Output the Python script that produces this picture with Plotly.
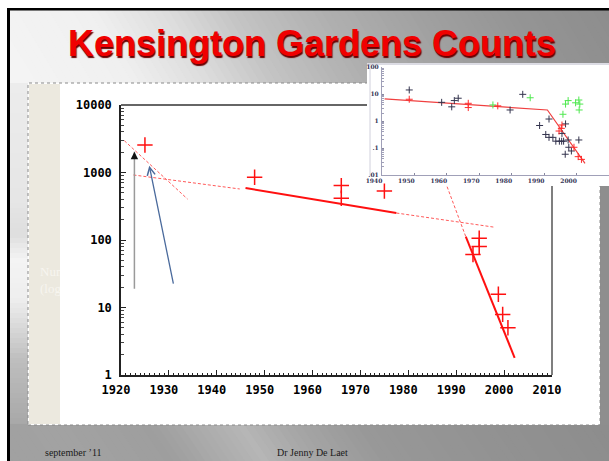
import math
import plotly.graph_objects as go

W, H = 609, 461
def px(x): return x / W
def py(y): return 1 - y / H

# ---------------- data: main chart ----------------
main_years = [1925.0, 1947.9, 1966.0, 1966.0, 1975.0, 1993.5, 1994.8, 1994.8, 1998.8, 1999.7, 2000.8]
main_counts = [2550, 850, 640, 415, 530, 61, 80, 106, 15.7, 7.9, 5.0]

trend_solid_early_years = [1946.0, 1977.5]
trend_solid_early_counts = [589, 251]
trend_dash_late_years = [1977.5, 1997.9]
trend_dash_late_counts = [251, 155]
trend_dash_early_years = [1922.6, 1944.8]
trend_dash_early_counts = [919, 570]
trend_dash_steep_years = [1920.7, 1933.9]
trend_dash_steep_counts = [2958, 404]
trend_solid_decline_years = [1992.0, 2002.2]
trend_solid_decline_counts = [112, 1.8]
trend_dash_decline_years = [1988.1, 1992.0]
trend_dash_decline_counts = [616, 112]

arrow_gray_years = [1922.8, 1922.8]
arrow_gray_counts = [18, 2030]
arrow_blue_years = [1931.0, 1925.9]
arrow_blue_counts = [21.5, 1262]

main_x_ticks = [1920, 1930, 1940, 1950, 1960, 1970, 1980, 1990, 2000, 2010]
main_y_ticks = [1, 10, 100, 1000, 10000]
main_y_labels = ["1", "10", "100", "1000", "10000"]

# ---------------- data: inset chart ----------------
inset_black_years = [1948.4, 1958.4, 1961.5, 1962.3, 1963.5, 1979.5, 1983.4, 1988.6, 1991.5,
                     1990.5, 1991.5, 1992.7, 1993.6, 1994.7, 1995.4, 1996.0, 1995.5, 1996.6,
                     1997.4, 1997.6, 1996.5, 1998.4, 2000.7]
inset_black_vals = [14.4, 5.0, 3.4, 5.8, 7.1, 2.6, 9.9, 0.69, 1.2,
                    0.32, 0.25, 0.25, 0.18, 0.18, 0.18, 0.18, 0.35, 0.79,
                    0.2, 0.107, 0.059, 0.078, 0.2]
inset_red_years = [1948.4, 1966.6, 1966.6, 1975.7, 1995.5, 1995.3, 1994.6, 1999.2, 2000.5, 2001.5]
inset_red_vals = [6.5, 4.6, 3.2, 3.7, 0.72, 0.54, 0.43, 0.107, 0.048, 0.038]
inset_green_years = [1974.2, 1985.7, 1995.8, 1996.6, 1997.4, 1999.7, 2000.7, 2001.0, 2000.8]
inset_green_vals = [4.0, 7.4, 1.8, 4.3, 5.8, 4.8, 6.1, 4.3, 2.6]
inset_line_years = [1940.8, 1991.0, 2002.6]
inset_line_vals = [6.7, 2.6, 0.027]

inset_x_ticks = [1940, 1950, 1960, 1970, 1980, 1990, 2000, 2010]
inset_y_ticks = [0.01, 0.1, 1, 10, 100]
inset_y_labels = [".01", ".1", "1", "10", "100"]

title_text = "Kensington Gardens Counts"
footer_left = "september \u201911"
footer_mid = "Dr Jenny De Laet"
side_label_lines = ["Number", "(log scale)"]

# ---------------- figure ----------------
fig = go.Figure()
RED = "#ff1010"
DASH_RED = "#ff5a5a"

def add_line(xs, ys, color, width, dash="solid"):
    fig.add_trace(go.Scatter(x=xs, y=ys, mode="lines", xaxis="x", yaxis="y",
                             line=dict(color=color, width=width, dash=dash),
                             hoverinfo="skip", showlegend=False, cliponaxis=False))

add_line(trend_dash_steep_years, trend_dash_steep_counts, DASH_RED, 1, "3px,2px")
add_line(trend_dash_early_years, trend_dash_early_counts, DASH_RED, 1, "3px,2px")
add_line(trend_solid_early_years, trend_solid_early_counts, RED, 2)
add_line(trend_dash_late_years, trend_dash_late_counts, DASH_RED, 1, "3px,2px")
add_line(trend_dash_decline_years, trend_dash_decline_counts, DASH_RED, 1, "3px,2px")
add_line(trend_solid_decline_years, trend_solid_decline_counts, RED, 2)

fig.add_trace(go.Scatter(x=main_years, y=main_counts, mode="markers", xaxis="x", yaxis="y",
                         marker=dict(symbol="cross-thin", size=11, line=dict(color=RED, width=1.5)),
                         showlegend=False, cliponaxis=False))

# inset traces
fig.add_trace(go.Scatter(x=inset_line_years, y=inset_line_vals, mode="lines", xaxis="x2", yaxis="y2",
                         line=dict(color="#f04040", width=1.2), showlegend=False))
fig.add_trace(go.Scatter(x=inset_black_years, y=inset_black_vals, mode="markers", xaxis="x2", yaxis="y2",
                         marker=dict(symbol="cross-thin", size=5, line=dict(color="#33334d", width=1)),
                         showlegend=False))
fig.add_trace(go.Scatter(x=inset_green_years, y=inset_green_vals, mode="markers", xaxis="x2", yaxis="y2",
                         marker=dict(symbol="cross-thin", size=5, line=dict(color="#4ee84e", width=1)),
                         showlegend=False))
fig.add_trace(go.Scatter(x=inset_red_years, y=inset_red_vals, mode="markers", xaxis="x2", yaxis="y2",
                         marker=dict(symbol="cross-thin", size=5, line=dict(color="#ff2a2a", width=1)),
                         showlegend=False))

# clipped side label (partially hidden behind the chart area)
fig.add_trace(go.Scatter(x=[12, 12], y=[273, 290], mode="text", xaxis="x3", yaxis="y3",
                         text=side_label_lines, textposition="middle right",
                         textfont=dict(family="Liberation Serif", size=13, color="#f7f5ef"),
                         showlegend=False, cliponaxis=True, hoverinfo="skip"))

# ---------------- background shapes ----------------
shapes = []

def grey(v):
    v = int(max(0, min(255, round(v))))
    return f"rgb({v},{v},{v})"

def interp(x, pts):
    for (x0, v0), (x1, v1) in zip(pts, pts[1:]):
        if x <= x1:
            t = (x - x0) / (x1 - x0) if x1 != x0 else 0
            return v0 + t * (v1 - v0)
    return pts[-1][1]

def poly(points, color):
    path = "M " + " L ".join(f"{px(a)},{py(b)}" for a, b in points) + " Z"
    shapes.append(dict(type="path", path=path, xref="paper", yref="paper",
                       fillcolor=color, line=dict(width=0), layer="below"))

def rect(x0, y0, x1, y1, fill=None, line_color=None, line_width=0, dash="solid", layer="below"):
    shapes.append(dict(type="rect", xref="paper", yref="paper",
                       x0=px(x0), x1=px(x1), y0=py(y1), y1=py(y0),
                       fillcolor=fill if fill else "rgba(0,0,0,0)",
                       line=dict(color=line_color if line_color else "rgba(0,0,0,0)",
                                 width=line_width, dash=dash),
                       layer=layer))

# title band gradient (slanted)
title_pts = [(-80, 246), (90, 240), (160, 222), (230, 196), (320, 176), (420, 160), (520, 148), (620, 140)]
slant = 45
step = 8
x = -80
while x < 620:
    c = grey(interp(x + step / 2, title_pts))
    poly([(x, 9), (x + step + 1, 9), (x + step + 1 + slant, 84), (x + slant, 84)], c)
    x += step

# left strip gradient
left_pts = [(83, 236), (200, 230), (235, 222), (260, 244), (300, 238), (330, 215), (360, 190), (425, 168)]
y = 83
while y < 425:
    rect(9, y, 29, y + 6, fill=grey(interp(y + 3, left_pts)))
    y += 5

# footer band gradient (slanted)
foot_pts = [(-60, 160), (60, 162), (150, 158), (200, 172), (240, 182), (290, 166), (360, 152), (480, 146), (620, 140)]
x = -60
while x < 620:
    c = grey(interp(x + step / 2, foot_pts))
    poly([(x, 424), (x + step + 1, 424), (x + step + 1 + 25, 461), (x + 25, 461)], c)
    x += step

# right strip
rect(600, 84, 609, 425, fill=grey(142))

# outer white margins and black frame
rect(0, 0, 609, 8, fill="white")
rect(0, 0, 7, 461, fill="white")
rect(7, 8, 609, 10.5, fill="black")
rect(7, 8, 10, 461, fill="black")

# chart content area
rect(28, 83, 600, 425, fill="white", line_color="#8a8a8a", line_width=1, dash="dot")
rect(29, 84, 60, 424, fill="#ece9df")

# main chart box lines (top and right)
shapes.append(dict(type="line", xref="paper", yref="paper", x0=px(121), x1=px(367), y0=py(105), y1=py(105),
                   line=dict(color="#333", width=1.5), layer="above"))
shapes.append(dict(type="line", xref="paper", yref="paper", x0=px(552), x1=px(552), y0=py(186), y1=py(375),
                   line=dict(color="#555", width=1.5), layer="above"))

# inset panel
rect(367, 63, 609, 186, fill="white")
shapes.append(dict(type="line", xref="paper", yref="paper", x0=px(367), x1=px(609), y0=py(64), y1=py(64),
                   line=dict(color="#b8b8c8", width=1), layer="below"))
shapes.append(dict(type="line", xref="paper", yref="paper", x0=px(370), x1=px(370), y0=py(64), y1=py(176),
                   line=dict(color="#d0d0dc", width=1), layer="below"))

# ---------------- annotations ----------------
annotations = []
annotations.append(dict(text=title_text, x=px(312), y=py(43), xref="paper", yref="paper",
                        showarrow=False, xanchor="center", yanchor="middle",
                        font=dict(family="Liberation Sans", size=36, color="#f00000", weight="bold",
                                  shadow="1px 2px 1px #6a0000")))
annotations.append(dict(text=footer_left, x=px(43), y=py(452), xref="paper", yref="paper",
                        showarrow=False, xanchor="left", yanchor="middle",
                        font=dict(family="Liberation Serif", size=10, color="#1a1a1a")))
annotations.append(dict(text=footer_mid, x=px(275), y=py(452), xref="paper", yref="paper",
                        showarrow=False, xanchor="left", yanchor="middle",
                        font=dict(family="Liberation Serif", size=10, color="#1a1a1a")))

annotations.append(dict(x=arrow_gray_years[1], y=math.log10(arrow_gray_counts[1]),
                        ax=arrow_gray_years[0], ay=math.log10(arrow_gray_counts[0]),
                        xref="x", yref="y", axref="x", ayref="y", text="",
                        showarrow=True, arrowhead=0, arrowwidth=1.5, arrowcolor="#9a9a9a"))
annotations.append(dict(x=arrow_gray_years[1], y=math.log10(arrow_gray_counts[1]),
                        ax=0, ay=5, xref="x", yref="y", text="",
                        showarrow=True, arrowhead=2, arrowsize=1, arrowwidth=1.5, arrowcolor="#111111"))
annotations.append(dict(x=arrow_blue_years[1], y=math.log10(arrow_blue_counts[1]),
                        ax=arrow_blue_years[0], ay=math.log10(arrow_blue_counts[0]),
                        xref="x", yref="y", axref="x", ayref="y", text="",
                        showarrow=True, arrowhead=5, arrowsize=1.2, arrowwidth=1.3, arrowcolor="#4a6a9c"))

mono = dict(family="DejaVu Sans Mono", size=12, color="black", weight="bold")
small = dict(family="DejaVu Serif", size=6, color="#333355", weight="bold")

fig.update_layout(
    width=W, height=H, autosize=False,
    margin=dict(l=0, r=0, t=0, b=0, pad=0, autoexpand=False),
    paper_bgcolor=grey(150), plot_bgcolor="rgba(0,0,0,0)",
    showlegend=False,
    shapes=shapes, annotations=annotations,
    xaxis=dict(domain=[px(121), px(552)], range=[1920, 2010], anchor="y", automargin=False,
               tickmode="array", tickvals=main_x_ticks, ticks="inside", ticklen=5,
               tickcolor="#222", tickwidth=1, showline=True, linecolor="#222", linewidth=1.5,
               showgrid=False, zeroline=False, tickfont=mono, ticklabelshift=-5,
               ticklabelstandoff=3,
               minor=dict(ticks="inside", ticklen=2, dtick=1, tick0=1920, tickcolor="#222",
                          tickwidth=1, showgrid=False)),
    yaxis=dict(type="log", domain=[py(375), py(105)], range=[0, 4], anchor="x", automargin=False,
               tickmode="array", tickvals=main_y_ticks, ticktext=main_y_labels,
               ticks="inside", ticklen=5, tickcolor="#222", tickwidth=1,
               showline=True, linecolor="#222", linewidth=1.5, showgrid=False, zeroline=False,
               tickfont=mono, ticklabelstandoff=5,
               minor=dict(ticks="inside", ticklen=3, tickcolor="#444", tickwidth=1, showgrid=False,
                          tickmode="array",
                          tickvals=[m * 10 ** k for k in range(4) for m in range(2, 10)])),
    xaxis2=dict(domain=[px(382), 1.0], range=[1940, 2010], anchor="y2", automargin=False,
                tickmode="array", tickvals=inset_x_ticks, ticks="inside", ticklen=2,
                tickcolor="#8888a0", showline=True, linecolor="#a0a0b8", linewidth=1,
                showgrid=False, zeroline=False, tickfont=small, ticklabelshift=-8,
                ticklabelstandoff=0),
    yaxis2=dict(type="log", domain=[py(175), py(67.3)], range=[-2, 2], anchor="x2", automargin=False,
                tickmode="array", tickvals=inset_y_ticks, ticktext=inset_y_labels,
                ticks="inside", ticklen=2, tickcolor="#8888a0", showline=True,
                linecolor="#a0a0b8", linewidth=1, showgrid=False, zeroline=False,
                tickfont=small, ticklabelstandoff=1,
                minor=dict(ticks="inside", ticklen=1.5, tickcolor="#a0a0b8", showgrid=False,
                           tickmode="array",
                           tickvals=[m * 10 ** k for k in range(-2, 2) for m in range(2, 10)])),
    xaxis3=dict(domain=[px(28), px(60)], range=[0, 32], visible=False, anchor="y3", automargin=False),
    yaxis3=dict(domain=[py(300), py(262)], range=[300, 262], visible=False, anchor="x3", automargin=False),
)

fig.write_html("out.html", config={"responsive": False, "displayModeBar": False},
               post_script="document.body.style.margin='0';document.body.style.padding='0';document.body.style.overflow='hidden';")
